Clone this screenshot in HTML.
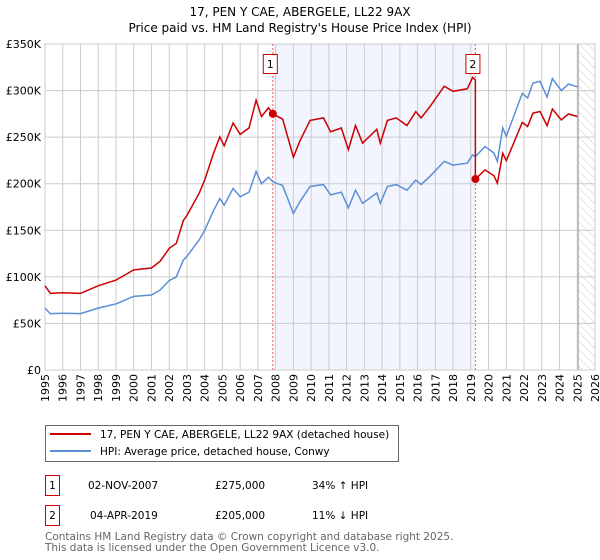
<!DOCTYPE html>
<html><head><meta charset="utf-8"><style>
body{margin:0;background:#fff;font-family:"DejaVu Sans","Liberation Sans",sans-serif;}
svg{display:block}
</style></head><body>
<svg width="600" height="560" viewBox="0 0 600 560">
<defs><pattern id="hatch" width="6" height="6" patternUnits="userSpaceOnUse" patternTransform="rotate(-45)"><line x1="0" y1="0" x2="0" y2="6" stroke="#ccc" stroke-width="1"/></pattern></defs>
<text x="300" y="16" text-anchor="middle" font-size="12">17, PEN Y CAE, ABERGELE, LL22 9AX</text>
<text x="300" y="32" text-anchor="middle" font-size="12">Price paid vs. HM Land Registry's House Price Index (HPI)</text>
<g id="plot"></g>
<g id="legend">
<rect x="45.5" y="425.5" width="353" height="36" fill="#fff" stroke="#666"/>
<line x1="50" y1="434" x2="91" y2="434" stroke="#cc0000" stroke-width="2"/>
<text x="100" y="438" font-size="10.5">17, PEN Y CAE, ABERGELE, LL22 9AX (detached house)</text>
<line x1="50" y1="451" x2="91" y2="451" stroke="#5b8fd6" stroke-width="2"/>
<text x="100" y="455" font-size="10.5">HPI: Average price, detached house, Conwy</text>
</g>
<g font-size="10.5">
<rect x="45.5" y="475.5" width="14" height="20" fill="#fff" stroke="#cc0000"/>
<text x="52.5" y="489" text-anchor="middle">1</text>
<text x="88" y="489">02-NOV-2007</text>
<text x="215" y="489">£275,000</text>
<text x="312" y="489">34% ↑ HPI</text>
<rect x="45.5" y="505.5" width="14" height="20" fill="#fff" stroke="#cc0000"/>
<text x="52.5" y="519" text-anchor="middle">2</text>
<text x="90" y="519">04-APR-2019</text>
<text x="215" y="519">£205,000</text>
<text x="312" y="519">11% ↓ HPI</text>
</g>
<text x="45" y="540" font-size="10.5" fill="#666">Contains HM Land Registry data © Crown copyright and database right 2025.</text>
<text x="45" y="551" font-size="10.5" fill="#666">This data is licensed under the Open Government Licence v3.0.</text>
</svg>
<script>
const hpiYears=[1995.0,1995.3,1996,1997,1998,1999,2000,2001,2001.5,2002,2002.4,2002.8,2003,2003.7,2004,2004.5,2004.85,2005.1,2005.6,2006,2006.5,2006.9,2007.2,2007.6,2007.85,2008.4,2009.0,2009.37,2009.94,2010.7,2011.1,2011.7,2012.1,2012.5,2012.9,2013.7,2013.9,2014.3,2014.8,2015.4,2015.9,2016.2,2016.7,2017.5,2018.0,2018.8,2019.1,2019.26,2019.8,2020.3,2020.5,2020.8,2021.0,2021.9,2022.2,2022.5,2022.9,2023.3,2023.6,2024.1,2024.5,2025.0];
const hpiValues=[66.5,60.5,61,60.5,66.5,71,79,80.5,86,96,100,118,122,140,150,171,184,177,195,186,191,213,200,207,202,198,168,181,197,199,188,191,174,193,179,190,179,197,199,193,204,199,208,224,220,222,231,229,240,233,224,260,251,297,292,308,310,293,313,300,307,304];
const saleYears=[2007.84,2019.26];
const salePrices=[275,205];
const saleLabels=["1","2"];
const yTicks=[0,50,100,150,200,250,300,350];
const yTickLabels=["£0","£50K","£100K","£150K","£200K","£250K","£300K","£350K"];
const xTicks=[1995,1996,1997,1998,1999,2000,2001,2002,2003,2004,2005,2006,2007,2008,2009,2010,2011,2012,2013,2014,2015,2016,2017,2018,2019,2020,2021,2022,2023,2024,2025,2026];
const dataEnd=2025.05;

const L=45,R=595,T=44,B=370,x0=1995,x1=2026,yMax=350;
const X=v=>L+(v-x0)/(x1-x0)*(R-L);
const Y=v=>B-v/yMax*(B-T);
const NS="http://www.w3.org/2000/svg";
const g=document.getElementById('plot');
function mk(tag,attrs,parent){const e=document.createElementNS(NS,tag);for(const k in attrs)e.setAttribute(k,attrs[k]);(parent||g).appendChild(e);return e;}
function interp(t){for(let i=0;i<hpiYears.length-1;i++){if(t>=hpiYears[i]&&t<=hpiYears[i+1]){const f=(t-hpiYears[i])/(hpiYears[i+1]-hpiYears[i]);return hpiValues[i]+f*(hpiValues[i+1]-hpiValues[i]);}}return hpiValues[hpiValues.length-1];}

let e=mk('rect',{x:X(saleYears[0]),y:T,width:X(saleYears[1])-X(saleYears[0]),height:B-T,fill:'#f2f5fd'});


e=mk('rect',{x:X(dataEnd),y:T,width:R-X(dataEnd),height:B-T,fill:'url(#hatch)'});


xTicks.forEach((t,i)=>{
 const l=mk('line',{x1:X(t),x2:X(t),y1:T,y2:B,stroke:'#ccc','stroke-width':1});
 
 
 const tx=mk('text',{x:0,y:0,'text-anchor':'end','font-size':11,transform:'translate('+(X(t)+4)+','+(B+4)+') rotate(-90)'});
 
 
 tx.textContent=t;
});
yTicks.forEach((v,i)=>{
 const l=mk('line',{x1:L,x2:R,y1:Y(v),y2:Y(v),stroke:'#ccc','stroke-width':1});
 
 
 const tx=mk('text',{x:L-4,y:Y(v)+4,'text-anchor':'end','font-size':11});
 
 
 tx.textContent=yTickLabels[i];
});
e=mk('line',{x1:X(dataEnd),x2:X(dataEnd),y1:T,y2:B,stroke:'#999','stroke-width':1});


e=mk('rect',{x:L,y:T,width:R-L,height:B-T,fill:'none',stroke:'#ccc'});


saleYears.forEach((s,i)=>{
 const l=mk('line',{x1:X(s),x2:X(s),y1:T,y2:B,stroke:'#f06060','stroke-width':1,'stroke-dasharray':'2,2'});
 
 
});
let hp=hpiYears.map((t,i)=>X(t).toFixed(1)+','+Y(hpiValues[i]).toFixed(1)).join(' ');
e=mk('polyline',{points:hp,fill:'none',stroke:'#5b8fd6','stroke-width':1.5});


const r1=salePrices[0]/interp(saleYears[0]),r2=salePrices[1]/interp(saleYears[1]);
let pts=[];
hpiYears.forEach((t,i)=>{if(t<saleYears[1])pts.push([t,hpiValues[i]*r1]);});
pts.push([saleYears[1],interp(saleYears[1])*r1]);
pts.push([saleYears[1],salePrices[1]]);
hpiYears.forEach((t,i)=>{if(t>saleYears[1])pts.push([t,hpiValues[i]*r2]);});
e=mk('polyline',{points:pts.map(p=>X(p[0]).toFixed(1)+','+Y(p[1]).toFixed(1)).join(' '),fill:'none',stroke:'#cc0000','stroke-width':1.5});


saleYears.forEach((s,i)=>{
 const c=mk('circle',{cx:X(s),cy:Y(salePrices[i]),r:4,fill:'#cc0000'});
 
 
 const b=mk('rect',{x:X(s)-9.5,y:54.5,width:14,height:19,fill:'#fff',stroke:'#cc0000'});
 
 
 const t=mk('text',{x:X(s)-2.5,y:68,'text-anchor':'middle','font-size':11});
 
 
 t.textContent=saleLabels[i];
});
</script>
</body></html>
